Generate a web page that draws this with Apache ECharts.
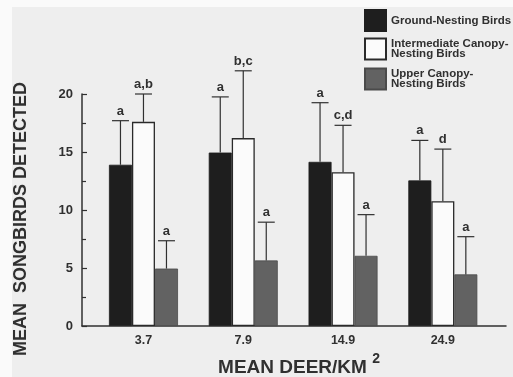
<!DOCTYPE html>
<html>
<head>
<meta charset="utf-8">
<script src="https://cdn.jsdelivr.net/npm/echarts@6/dist/echarts.min.js"></script>
<style>
  html, body { margin: 0; padding: 0; background: #fafafa; }
  #c { width: 513px; height: 377px; background: #eeeeee; box-shadow: inset 12px 7px 0 #fafafa; }
</style>
</head>
<body>
<div id="c"></div>
<script>
// ---- data ----
const categories = ['3.7', '7.9', '14.9', '24.9'];
const seriesNames = ['Ground-Nesting Birds', 'Intermediate Canopy-Nesting Birds', 'Upper Canopy-Nesting Birds'];
const legendLabels = ['Ground-Nesting Birds', 'Intermediate Canopy-\nNesting Birds', 'Upper Canopy-\nNesting Birds'];
const groundMean = [13.9, 14.95, 14.15, 12.55];
const groundUpper = [17.7, 19.75, 19.25, 16.0];
const interMean = [17.6, 16.2, 13.25, 10.75];
const interUpper = [20.0, 22.0, 17.3, 15.25];
const upperMean = [4.95, 5.65, 6.05, 4.45];
const upperUpper = [7.35, 8.95, 9.6, 7.7];
const groundLetters = ['a', 'a', 'a', 'a'];
const interLetters = ['a,b', 'b,c', 'c,d', 'd'];
const upperLetters = ['a', 'a', 'a', 'a'];
const yTicks = [0, 5, 10, 15, 20];

// ---- styling ----
const FONT = "'Liberation Sans', Arial, Helvetica, sans-serif";
const INK = '#303030';
const BAR_W = 23;
const colors = ['#1e1e1e', '#fbfbfb', '#626262'];
const borders = ['#1e1e1e', '#2a2a2a', '#4a4a4a'];

const xPos = categories.map((_, i) => i + 1);
const means = [groundMean, interMean, upperMean];
const uppers = [groundUpper, interUpper, upperUpper];
const letters = [groundLetters, interLetters, upperLetters];

const barSeries = means.map((m, s) => ({
  name: seriesNames[s],
  type: 'bar',
  barWidth: BAR_W,
  barGap: '0%',
  data: m.map((v, i) => [xPos[i], v]),
  itemStyle: { color: colors[s], borderColor: borders[s], borderWidth: s === 1 ? 1.3 : 0.8 },
  z: 2
}));

const errSeries = means.map((m, s) => ({
  type: 'custom',
  silent: true,
  z: 3,
  clip: false,
  encode: { x: 0, y: 2 },
  data: m.map((v, i) => [xPos[i], v, uppers[s][i]]),
  renderItem: function (params, api) {
    const off = (s - 1) * BAR_W;
    const xc = api.coord([api.value(0), 0])[0] + off;
    const yb = api.coord([api.value(0), api.value(1)])[1];
    const yt = api.coord([api.value(0), api.value(2)])[1];
    const ls = { stroke: INK, lineWidth: 1.2 };
    return {
      type: 'group',
      children: [
        { type: 'line', shape: { x1: xc, y1: yb, x2: xc, y2: yt }, style: ls },
        { type: 'line', shape: { x1: xc - 8.5, y1: yt, x2: xc + 8.5, y2: yt }, style: ls },
        { type: 'text', x: xc, y: yt - 3,
          style: { text: letters[s][params.dataIndex], align: 'center', verticalAlign: 'bottom',
                   font: 'bold 13px ' + FONT, fill: INK } }
      ]
    };
  }
}));

const legendTops = [9, 37.5, 67.5];
const legends = seriesNames.map((n, s) => ({
  data: [n],
  orient: 'vertical',
  left: 364,
  top: legendTops[s],
  padding: 0,
  itemWidth: 21,
  itemHeight: 21,
  icon: 'rect',
  selectedMode: false,
  formatter: () => legendLabels[s],
  textStyle: { fontFamily: FONT, fontWeight: 'bold', fontSize: 11.5, color: INK, lineHeight: 10.5 }
}));

const chart = echarts.init(document.getElementById('c'), null, { renderer: 'canvas' });
chart.setOption({
  animation: false,
  legend: legends,
  grid: { left: 82, right: 7, top: 94, bottom: 51, containLabel: false, outerBoundsMode: 'none' },
  xAxis: {
    type: 'value',
    min: 0.384,
    max: 4.633,
    splitLine: { show: false },
    axisLine: { show: true, lineStyle: { color: INK, width: 1.5 } },
    axisTick: { show: false },
    axisLabel: {
      customValues: xPos,
      formatter: v => categories[Math.round(v) - 1] || '',
      fontFamily: FONT, fontWeight: 'bold', fontSize: 12.5, color: INK, margin: 8
    },
    name: '{m|MEAN DEER/KM }{s|2}',
    nameLocation: 'middle',
    nameGap: 23.5,
    nameTextStyle: {
      padding: [0, 0, 0, 10],
      rich: {
        m: { fontFamily: FONT, fontWeight: 'bold', fontSize: 19, color: INK, lineHeight: 25, verticalAlign: 'bottom' },
        s: { fontFamily: FONT, fontWeight: 'bold', fontSize: 14, color: INK, lineHeight: 14, verticalAlign: 'top' }
      }
    }
  },
  yAxis: {
    type: 'value',
    min: yTicks[0],
    max: yTicks[yTicks.length - 1],
    interval: 5,
    splitLine: { show: false },
    axisLine: { show: true, lineStyle: { color: INK, width: 1.5 } },
    axisTick: { show: true, inside: true, length: 5, lineStyle: { color: INK, width: 1.2 } },
    minorTick: { show: true, splitNumber: 2, length: 4, lineStyle: { color: INK, width: 1.2 } },
    axisLabel: { fontFamily: FONT, fontWeight: 'bold', fontSize: 13, color: INK, margin: 9 },
    name: 'MEAN  SONGBIRDS DETECTED',
    nameLocation: 'middle',
    nameGap: 52,
    nameRotate: 90,
    nameTextStyle: { fontFamily: FONT, fontWeight: 'bold', fontSize: 18, color: INK, padding: [0, 18, 0, 0] }
  },
  series: barSeries.concat(errSeries)
});
</script>
</body>
</html>
